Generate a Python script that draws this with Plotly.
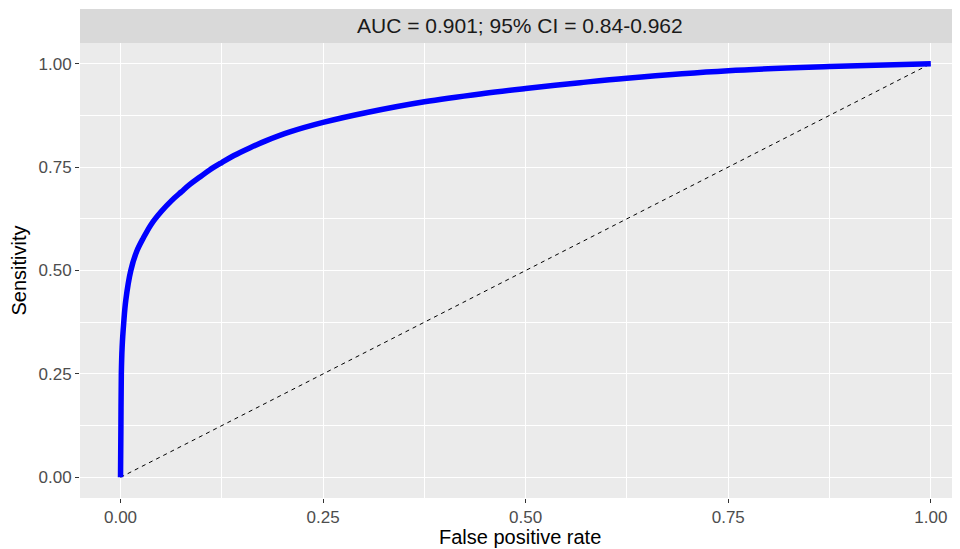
import plotly.graph_objects as go

# ROC curve
fpr = [0, 0.0005, 0.001, 0.002, 0.004, 0.0065, 0.0127, 0.0197, 0.028, 0.038,
       0.05, 0.063, 0.075, 0.0856, 0.098, 0.11, 0.125, 0.14, 0.16, 0.18,
       0.209, 0.25, 0.304, 0.375, 0.448, 0.5, 0.567, 0.625, 0.75, 0.875, 1.0]
tpr = [0, 0.125, 0.25, 0.315, 0.375, 0.428, 0.5, 0.545, 0.578, 0.612,
       0.642, 0.669, 0.690, 0.708, 0.726, 0.743, 0.761, 0.778, 0.797, 0.814,
       0.835, 0.858, 0.882, 0.908, 0.928, 0.940, 0.954, 0.965, 0.983, 0.993, 1.0]
diag_x = [0, 1]
diag_y = [0, 1]
tick_vals = [0, 0.25, 0.5, 0.75, 1.0]
tick_text = ["0.00", "0.25", "0.50", "0.75", "1.00"]
strip_title = "AUC = 0.901; 95% CI = 0.84-0.962"
x_title = "False positive rate"
y_title = "Sensitivity"

FONT = "Liberation Sans, Arial, Helvetica, sans-serif"
PANEL_H = 455
PANEL_W = 880

fig = go.Figure()
fig.add_trace(go.Scatter(x=diag_x, y=diag_y, mode="lines",
                         line=dict(color="black", width=1, dash="4px,4px"),
                         hoverinfo="skip", showlegend=False))
fig.add_trace(go.Scatter(x=fpr, y=tpr, mode="lines",
                         line=dict(color="#0000ff", width=5.5, shape="spline", smoothing=1.0),
                         showlegend=False))

axis_common = dict(
    showgrid=True, gridcolor="white", gridwidth=1.3,
    zeroline=False, showline=False, automargin=False,
    ticks="outside", ticklen=4, tickwidth=1.2, tickcolor="#333333",
    tickfont=dict(family=FONT, size=17, color="#4d4d4d"),
    tickvals=tick_vals, ticktext=tick_text,
    minor=dict(tickvals=[0.125, 0.375, 0.625, 0.875], showgrid=True,
               gridcolor="white", gridwidth=0.6, ticks=""),
)

fig.update_layout(
    width=952, height=541,
    margin=dict(l=72, r=0, t=35, b=51),
    paper_bgcolor="white", plot_bgcolor="#ebebeb",
    font=dict(family=FONT),
    xaxis=dict(range=[-0.05, 1.036], **axis_common),
    yaxis=dict(range=[-0.05, 1.05], **axis_common),
    shapes=[dict(type="rect", xref="paper", yref="paper", x0=0, x1=1,
                 y0=1, y1=1 + 34 / PANEL_H, fillcolor="#d9d9d9", line=dict(width=0),
                 layer="below")],
    annotations=[
        dict(text=strip_title, xref="paper", yref="paper", x=0.5,
             y=1 + 17 / PANEL_H, showarrow=False, xanchor="center", yanchor="middle",
             font=dict(family=FONT, size=21, color="#1a1a1a")),
        dict(text=x_title, xref="paper", yref="paper", x=0.5,
             y=-39 / PANEL_H, showarrow=False, xanchor="center", yanchor="middle",
             font=dict(family=FONT, size=20, color="black")),
        dict(text=y_title, xref="paper", yref="paper", x=-62 / PANEL_W,
             y=0.5, showarrow=False, xanchor="center", yanchor="middle", textangle=-90,
             font=dict(family=FONT, size=20, color="black")),
    ],
)

fig.write_html("out.html")
